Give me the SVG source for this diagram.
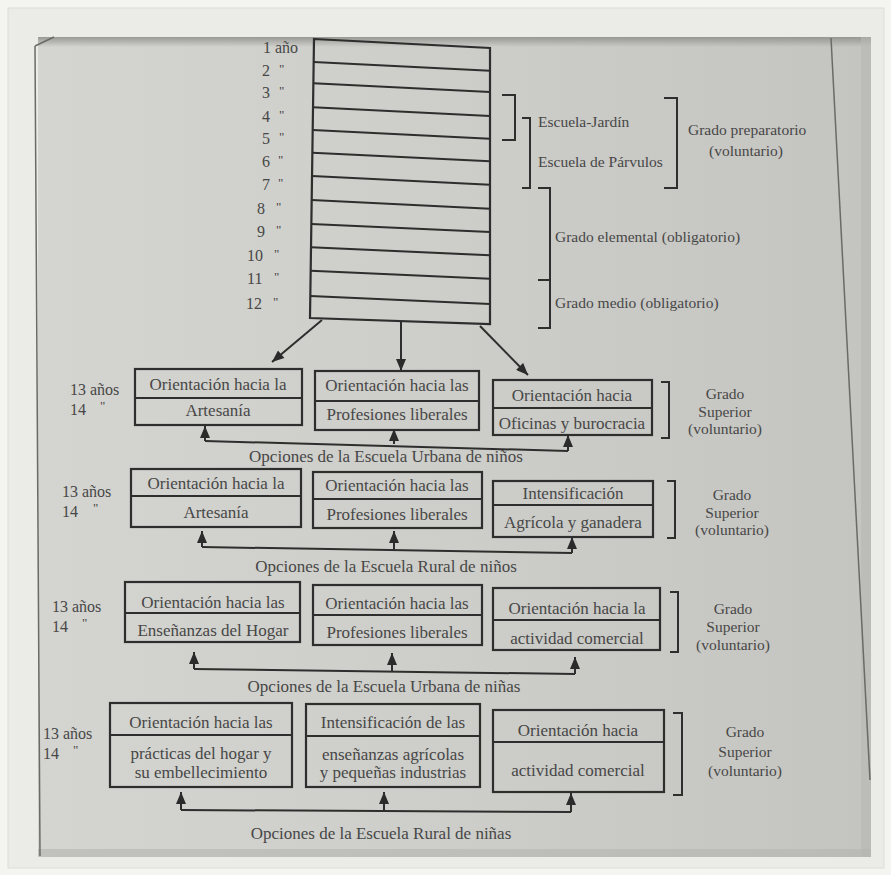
<svg xmlns="http://www.w3.org/2000/svg" width="891" height="875" viewBox="0 0 891 875">
<defs>
<linearGradient id="pg" x1="0" y1="0" x2="1" y2="0">
<stop offset="0" stop-color="#d4d4d0"/>
<stop offset="0.5" stop-color="#cdcdc9"/>
<stop offset="1" stop-color="#c4c4c0"/>
</linearGradient>
<linearGradient id="topsh" x1="0" y1="0" x2="0" y2="1">
<stop offset="0" stop-color="#8a8a86" stop-opacity="0.8"/>
<stop offset="1" stop-color="#8a8a86" stop-opacity="0"/>
</linearGradient>
<marker id="ah" viewBox="0 0 12 10" refX="12" refY="5" markerWidth="13" markerHeight="10" markerUnits="userSpaceOnUse" orient="auto">
<path d="M0,0 L12,5 L0,10 z" fill="#2b2b2b"/>
</marker>
<style>
.ln{fill:none;stroke:#2e2e2e;stroke-width:2}
.box{fill:none;stroke:#2e2e2e;stroke-width:2.2}
.t{font-family:"Liberation Serif","Times New Roman",serif;fill:#474747}
.b{font-size:17px;text-anchor:middle}
.g{font-size:15.5px;text-anchor:middle}
.s{font-size:16px}
.br{font-size:15.5px}
.d{font-size:13px}
.cap{font-size:17px;text-anchor:middle}
.arr{fill:none;stroke:#2e2e2e;stroke-width:2;marker-end:url(#ah)}
</style>
</defs>

<!-- photo frame -->
<rect x="0" y="0" width="891" height="875" fill="#f4f4f1"/>
<rect x="8" y="8" width="876" height="860" fill="#ebebe7" stroke="#dcdcd8" stroke-width="1"/>
<rect x="38" y="37" width="833" height="820" fill="url(#pg)"/>
<rect x="38" y="37" width="833" height="10" fill="url(#topsh)"/>
<rect x="861" y="37" width="10" height="820" fill="#b8b8b4" opacity="0.6"/>
<rect x="38" y="849" width="833" height="8" fill="#b4b4b0" opacity="0.6"/>
<path d="M35,46 L54,37 M35,46 L40,856" fill="none" stroke="#6a6a66" stroke-width="1.5"/>
<path d="M831,38 L870,780" fill="none" stroke="#6a6a66" stroke-width="1.5"/>

<!-- ladder of years -->
<g id="ladder">
<path class="box" d="M314,39 L490,48 L490,324 L310,318 Z"/>
<path class="ln" d="M313.7,62 L490,70.7 M313.4,83.3 L490,92 M313,107.3 L490,116 M312.7,130 L490,138.7 M312.4,152.7 L490,161.3 M312,176 L490,184.7 M311.7,200 L490,208.7 M311.3,224 L490,232 M311,247.3 L490,255.3 M310.7,270.7 L490,278.7 M310.3,296 L490,304"/>
<text class="t s" x="263" y="53">1 año</text>
<text class="t s" x="262" y="76">2</text><text class="t d" x="279" y="73">"</text>
<text class="t s" x="262" y="98">3</text><text class="t d" x="279" y="95">"</text>
<text class="t s" x="262" y="122">4</text><text class="t d" x="279" y="119">"</text>
<text class="t s" x="262" y="144">5</text><text class="t d" x="279" y="141">"</text>
<text class="t s" x="262" y="167">6</text><text class="t d" x="278" y="164">"</text>
<text class="t s" x="262" y="190">7</text><text class="t d" x="278" y="187">"</text>
<text class="t s" x="257" y="214">8</text><text class="t d" x="276" y="211">"</text>
<text class="t s" x="257" y="237">9</text><text class="t d" x="276" y="234">"</text>
<text class="t s" x="247" y="261">10</text><text class="t d" x="274" y="258">"</text>
<text class="t s" x="247" y="284">11</text><text class="t d" x="274" y="281">"</text>
<text class="t s" x="246" y="309">12</text><text class="t d" x="273" y="306">"</text>
</g>

<!-- brackets for the ladder -->
<g id="escuela-jardin">
<path class="ln" d="M502,95 H515 V140 H502"/>
<path class="ln" d="M522,118 H530 V188 H522"/>
<text class="t br" x="538" y="127">Escuela-Jardín</text>
<text class="t br" x="538" y="167">Escuela de Párvulos</text>
</g>
<g id="grado-preparatorio">
<path class="ln" d="M664,98 H677 V188 H664"/>
<text class="t br" x="688" y="135">Grado preparatorio</text>
<text class="t br" x="746" y="156" text-anchor="middle">(voluntario)</text>
</g>
<g id="grado-elemental">
<path class="ln" d="M538,188 H550 V280 H538"/>
<text class="t br" x="555" y="242">Grado elemental (obligatorio)</text>
</g>
<g id="grado-medio">
<path class="ln" d="M550,280 V328 H538"/>
<text class="t br" x="555" y="308">Grado medio (obligatorio)</text>
</g>

<!-- Row 1: Escuela Urbana de niños -->
<g id="r1-edad">
<text class="t s" x="70" y="395">13 años</text>
<text class="t s" x="70" y="415">14</text><text class="t d" x="100" y="410">"</text>
</g>
<g id="r1-artesania">
<rect class="box" x="135" y="369" width="167" height="56"/>
<line class="ln" x1="135" y1="398" x2="302" y2="398"/>
<text class="t b" x="218" y="390">Orientación hacia la</text>
<text class="t b" x="218" y="416">Artesanía</text>
</g>
<g id="r1-profesiones">
<rect class="box" x="315" y="371" width="164" height="59"/>
<line class="ln" x1="315" y1="401" x2="479" y2="401"/>
<text class="t b" x="397" y="391">Orientación hacia las</text>
<text class="t b" x="397" y="420">Profesiones liberales</text>
</g>
<g id="r1-oficinas">
<rect class="box" x="493" y="380" width="159" height="55"/>
<line class="ln" x1="493" y1="408" x2="652" y2="408"/>
<text class="t b" x="572" y="401">Orientación hacia</text>
<text class="t b" x="572" y="429">Oficinas y burocracia</text>
</g>
<g id="r1-grado">
<path class="ln" d="M661,382 H669 V438 H661"/>
<text class="t g" x="725" y="399">Grado</text>
<text class="t g" x="725" y="416.5">Superior</text>
<text class="t g" x="725" y="434">(voluntario)</text>
</g>
<text id="r1-caption" class="t cap" x="386" y="462">Opciones de la Escuela Urbana de niños</text>

<!-- Row 2: Escuela Rural de niños -->
<g id="r2-edad">
<text class="t s" x="62" y="497">13 años</text>
<text class="t s" x="62" y="517">14</text><text class="t d" x="93" y="512">"</text>
</g>
<g id="r2-artesania">
<rect class="box" x="131" y="469" width="170" height="58"/>
<line class="ln" x1="131" y1="496" x2="301" y2="496"/>
<text class="t b" x="216" y="489">Orientación hacia la</text>
<text class="t b" x="216" y="518">Artesanía</text>
</g>
<g id="r2-profesiones">
<rect class="box" x="313" y="472" width="169" height="56"/>
<line class="ln" x1="313" y1="499" x2="482" y2="499"/>
<text class="t b" x="397" y="491">Orientación hacia las</text>
<text class="t b" x="397" y="520">Profesiones liberales</text>
</g>
<g id="r2-agricola">
<rect class="box" x="493" y="481" width="160" height="56"/>
<line class="ln" x1="493" y1="505" x2="653" y2="505"/>
<text class="t b" x="573" y="499">Intensificación</text>
<text class="t b" x="573" y="528">Agrícola y ganadera</text>
</g>
<g id="r2-grado">
<path class="ln" d="M667,481 H675 V538 H667"/>
<text class="t g" x="732" y="500">Grado</text>
<text class="t g" x="732" y="517.5">Superior</text>
<text class="t g" x="732" y="535">(voluntario)</text>
</g>
<text id="r2-caption" class="t cap" x="386" y="572">Opciones de la Escuela Rural de niños</text>

<!-- Row 3: Escuela Urbana de niñas -->
<g id="r3-edad">
<text class="t s" x="52" y="612">13 años</text>
<text class="t s" x="52" y="632">14</text><text class="t d" x="82" y="627">"</text>
</g>
<g id="r3-hogar">
<rect class="box" x="125" y="582" width="175" height="60"/>
<line class="ln" x1="125" y1="613" x2="300" y2="613"/>
<text class="t b" x="213" y="608">Orientación hacia las</text>
<text class="t b" x="213" y="636">Enseñanzas del Hogar</text>
</g>
<g id="r3-profesiones">
<rect class="box" x="313" y="585" width="169" height="60"/>
<line class="ln" x1="313" y1="615" x2="482" y2="615"/>
<text class="t b" x="397" y="609">Orientación hacia las</text>
<text class="t b" x="397" y="638">Profesiones liberales</text>
</g>
<g id="r3-comercial">
<rect class="box" x="493" y="588" width="167" height="62"/>
<line class="ln" x1="493" y1="620" x2="660" y2="620"/>
<text class="t b" x="577" y="614">Orientación hacia la</text>
<text class="t b" x="577" y="644">actividad comercial</text>
</g>
<g id="r3-grado">
<path class="ln" d="M670,592 H678 V652 H670"/>
<text class="t g" x="733" y="614">Grado</text>
<text class="t g" x="733" y="632">Superior</text>
<text class="t g" x="733" y="650">(voluntario)</text>
</g>
<text id="r3-caption" class="t cap" x="384" y="692">Opciones de la Escuela Urbana de niñas</text>

<!-- Row 4: Escuela Rural de niñas -->
<g id="r4-edad">
<text class="t s" x="43" y="739">13 años</text>
<text class="t s" x="43" y="759">14</text><text class="t d" x="73" y="754">"</text>
</g>
<g id="r4-hogar">
<rect class="box" x="110" y="703" width="182" height="84"/>
<line class="ln" x1="110" y1="735" x2="292" y2="735"/>
<text class="t b" x="201" y="728">Orientación hacia las</text>
<text class="t b" x="201" y="759">prácticas del hogar y</text>
<text class="t b" x="201" y="778">su embellecimiento</text>
</g>
<g id="r4-agricolas">
<rect class="box" x="306" y="704" width="174" height="83"/>
<line class="ln" x1="306" y1="736" x2="480" y2="736"/>
<text class="t b" x="393" y="728">Intensificación de las</text>
<text class="t b" x="393" y="760">enseñanzas agrícolas</text>
<text class="t b" x="393" y="778">y pequeñas industrias</text>
</g>
<g id="r4-comercial">
<rect class="box" x="493" y="710" width="171" height="82"/>
<line class="ln" x1="493" y1="742" x2="664" y2="742"/>
<text class="t b" x="578" y="736">Orientación hacia</text>
<text class="t b" x="578" y="776">actividad comercial</text>
</g>
<g id="r4-grado">
<path class="ln" d="M673,713 H682 V795 H673"/>
<text class="t g" x="745" y="737">Grado</text>
<text class="t g" x="745" y="757">Superior</text>
<text class="t g" x="745" y="776">(voluntario)</text>
</g>
<text id="r4-caption" class="t cap" x="381" y="839">Opciones de la Escuela Rural de niñas</text>

<!-- connectors -->
<g id="connectors">
<path class="arr" d="M322,320 L272,362"/>
<path class="arr" d="M401,322 L401,371"/>
<path class="arr" d="M480,326 L528,375"/>

<path class="ln" d="M205,441 L568,451"/>
<path class="arr" d="M205,441 V426"/>
<path class="arr" d="M394,444 V429"/>
<path class="arr" d="M568,451 V435"/>

<path class="ln" d="M202,547 L572,553"/>
<path class="arr" d="M202,547 V531"/>
<path class="arr" d="M394,550 V531"/>
<path class="arr" d="M572,553 V537"/>

<path class="ln" d="M194,669 L575,674"/>
<path class="arr" d="M194,669 V652"/>
<path class="arr" d="M392,672 V653"/>
<path class="arr" d="M575,674 V657"/>

<path class="ln" d="M181,810 L571,812"/>
<path class="arr" d="M181,810 V792"/>
<path class="arr" d="M384,811 V792"/>
<path class="arr" d="M571,812 V793"/>
</g>
</svg>
